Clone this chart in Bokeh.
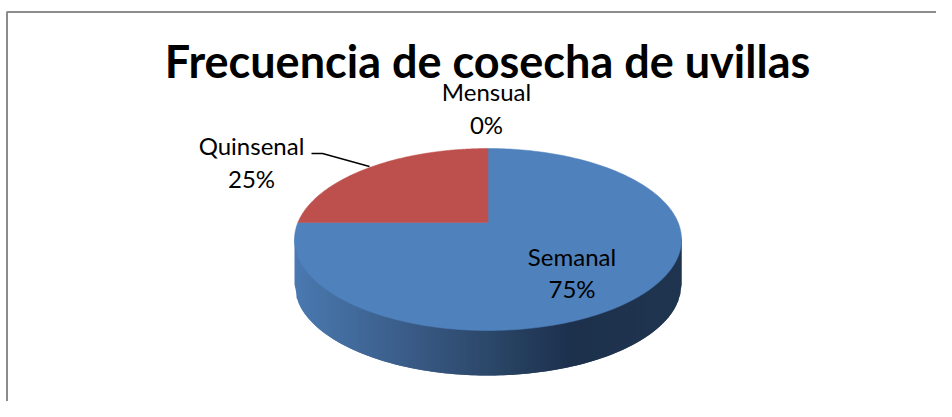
import numpy as np
from bokeh.plotting import figure
from bokeh.models import Range1d
from bokeh.core.properties import value
from bokeh.embed import file_html
from bokeh.resources import INLINE

title = "Frecuencia de cosecha de uvillas"
categories = ["Semanal", "Quinsenal", "Mensual"]
shares = [75, 25, 0]
colors = ["#4f81bd", "#bd4f4c", "#9bbb59"]

W, H = 936, 401
p = figure(width=W, height=H, output_backend="svg", toolbar_location=None,
           x_range=Range1d(0, W), y_range=Range1d(H, 0),
           min_border=0, outline_line_color=None)
p.axis.visible = False
p.grid.visible = False
p.background_fill_color = "white"
p.border_fill_color = "white"

p.line([6.5, 6.5, W], [H, 11.5, 11.5], line_color="#8c8c8c", line_width=2)

cx, cy, rx, ry = 487.5, 239.0, 193.5, 91.0
ax, ay = 487.5, 222.0
depth = 45.0

def rim(theta):
    dx, dy = rx * np.sin(theta), -ry * np.cos(theta)
    ox, oy = (ax - cx) / rx, (ay - cy) / ry
    a = (dx / rx) ** 2 + (dy / ry) ** 2
    b = 2 * (ox * dx / rx + oy * dy / ry)
    c = ox ** 2 + oy ** 2 - 1
    t = (-b + np.sqrt(b ** 2 - 4 * a * c)) / (2 * a)
    return ax + t * dx, ay + t * dy

stops_x = [295, 400, 488, 570, 682]
stops_rgb = np.array([[74, 122, 176], [60, 94, 138], [44, 72, 106], [29, 49, 77], [32, 54, 80]])
edges = np.arange(cx - rx, cx + rx + 2, 2.0)
edges = np.clip(edges, cx - rx, cx + rx)
front = cy + ry * np.sqrt(np.clip(1 - ((edges - cx) / rx) ** 2, 0, 1))
xs, ys, fills = [], [], []
for i in range(len(edges) - 1):
    j = min(i + 2, len(edges) - 1)
    xm = (edges[i] + edges[i + 1]) / 2
    rgb = [int(np.interp(xm, stops_x, stops_rgb[:, k])) for k in range(3)]
    xs.append([edges[i], edges[j], edges[j], edges[i]])
    ys.append([front[i] - 3, front[j] - 3, front[j] + depth, front[i] + depth])
    fills.append("#%02x%02x%02x" % tuple(rgb))
p.patches(xs, ys, fill_color=fills, line_color=None)

start = 0.0
total = sum(shares)
for share, color in zip(shares, colors):
    if share == 0:
        continue
    sweep = 2 * np.pi * share / total
    th = np.linspace(start, start + sweep, 240)
    px, py = rim(th)
    p.patch(np.r_[ax, px], np.r_[ay, py], fill_color=color, line_color=color, line_width=0.5)
    start += sweep

p.line([311, 322, 369], [153, 153, 166], line_color="#000000", line_width=1.3)

def label(x, y, text, size, weight="normal"):
    p.text([x], [y], text=[text], text_font=value("Lato"), text_font_size=size,
           text_font_style=weight, text_align="center", text_baseline="alphabetic",
           text_color="#000000")

label(487, 60, title, "45px", "bold")
positions = {"Semanal": (571.5, 256, 288), "Quinsenal": (251, 145, 178), "Mensual": (486, 91, 124)}
for c, s in zip(categories, shares):
    x, y1, y2 = positions[c]
    label(x, y1, c, "24px")
    label(x, y2, f"{s}%", "24px")

open("out.html", "w").write(file_html(p, INLINE))
